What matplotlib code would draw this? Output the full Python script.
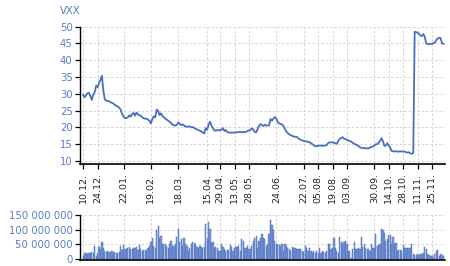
import matplotlib
matplotlib.use("Agg")
import matplotlib.pyplot as plt
import numpy as np
import pandas as pd
from matplotlib.ticker import FuncFormatter

# ---- data ----
holidays = ["2018-12-25", "2019-01-01", "2019-01-21", "2019-02-18", "2019-04-19",
            "2019-05-27", "2019-07-04", "2019-09-02", "2019-11-28"]
dates = pd.bdate_range("2018-12-10", "2019-12-06", freq="C", holidays=holidays)

price = [
    29.7, 29.0, 29.6, 30.2, 30.3, 29.3, 28.2, 29.8, 30.5, 32.4, 32.0, 33.3, 34.1, 35.4, 31.0,
    28.4, 28.0, 27.9, 27.8, 27.5, 27.3, 27.1, 26.7, 26.4, 26.2, 25.9, 25.3, 24.0, 23.2, 22.8,
    22.8, 23.0, 23.6, 23.2, 24.0, 24.3, 23.5, 24.4, 23.9, 23.6, 23.5, 23.0, 22.7, 22.6, 22.6,
    22.3, 22.0, 21.2, 22.5, 23.3, 23.0, 25.3, 24.9, 23.7, 24.2, 23.4, 23.0, 22.6, 22.3, 22.0,
    21.7, 21.3, 20.8, 20.7, 20.5, 20.8, 21.5, 21.0, 20.7, 20.9, 20.6, 20.2, 20.3, 20.2, 20.3,
    20.0, 20.1, 19.8, 19.6, 19.4, 19.2, 19.0, 18.8, 18.5, 18.2, 19.8, 19.3, 20.8, 21.7, 20.6,
    19.8, 19.1, 19.0, 19.2, 19.2, 19.1, 19.3, 19.8, 18.9, 19.2, 18.6, 18.5, 18.4, 18.5, 18.5,
    18.4, 18.6, 18.5, 18.6, 18.7, 18.5, 18.7, 18.6, 18.7, 18.9, 19.1, 19.2, 19.7, 19.4, 18.6,
    18.5, 19.5, 20.4, 21.0, 20.7, 20.4, 20.8, 20.6, 20.5, 20.6, 22.5, 22.0, 22.6, 23.1, 22.6,
    21.6, 21.2, 21.0, 20.9, 20.4, 19.5, 18.7, 18.3, 17.9, 17.7, 17.5, 17.3, 17.2, 17.2, 16.9,
    16.5, 16.3, 16.1, 16.0, 15.9, 15.8, 15.7, 15.6, 15.3, 15.0, 14.7, 14.4, 14.4, 14.5, 14.6,
    14.6, 14.5, 14.6, 14.6, 14.7, 15.4, 15.5, 15.6, 15.5, 15.4, 15.3, 15.1, 16.0, 16.6, 16.8,
    17.1, 16.6, 16.5, 16.3, 16.1, 15.9, 15.8, 15.4, 15.2, 14.9, 14.7, 14.5, 14.1, 13.9, 13.8,
    13.9, 13.7, 13.8, 13.7, 14.0, 14.2, 14.3, 14.6, 15.0, 15.0, 15.4, 16.0, 16.8, 15.8, 14.5,
    14.6, 15.3, 14.6, 13.9, 13.0, 12.9, 12.8, 12.9, 12.8, 12.8, 12.9, 12.8, 12.8, 12.8, 12.6,
    12.5, 12.6, 12.3, 12.1, 12.4, 48.5, 48.4, 48.2, 47.9, 47.4, 47.2, 47.8, 47.0, 45.0, 44.8,
    44.9, 44.9, 44.9, 45.1, 45.3, 46.0, 46.5, 46.7, 46.6, 45.0, 44.9,
]

volume_m = [
    12, 20, 21, 19, 22, 22, 25, 22, 44, 9, 22, 42, 33, 58, 38,
    26, 24, 26, 24, 24, 28, 22, 25, 20, 22, 24, 44, 30, 48, 36,
    33, 37, 41, 33, 33, 39, 38, 41, 30, 48, 33, 28, 30, 30, 28,
    37, 44, 59, 72, 45, 39, 100, 114, 72, 78, 50, 52, 50, 44, 39,
    50, 61, 44, 44, 50, 74, 103, 59, 67, 44, 72, 50, 44, 28, 39,
    52, 59, 56, 50, 41, 39, 44, 41, 39, 40, 119, 67, 126, 103, 56,
    59, 39, 41, 39, 28, 28, 52, 41, 33, 28, 30, 30, 48, 41, 28,
    39, 41, 41, 44, 28, 67, 63, 39, 37, 44, 33, 33, 44, 63, 72,
    78, 39, 63, 72, 86, 72, 70, 44, 50, 86, 133, 117, 100, 63, 50,
    52, 48, 44, 50, 28, 52, 44, 39, 33, 28, 41, 37, 39, 36, 36,
    33, 33, 28, 24, 44, 39, 28, 37, 28, 22, 28, 22, 28, 22, 37,
    22, 28, 24, 22, 28, 52, 50, 33, 39, 72, 39, 28, 22, 74, 59,
    50, 59, 63, 52, 28, 28, 3, 33, 59, 33, 36, 39, 33, 76, 41,
    52, 39, 36, 33, 28, 52, 39, 39, 86, 44, 48, 52, 102, 100, 89,
    61, 70, 81, 83, 52, 76, 50, 56, 28, 30, 30, 26, 48, 37, 39,
    39, 39, 39, 52, 19, 14, 14, 17, 14, 16, 19, 22, 41, 36, 19,
    14, 11, 9, 3, 17, 28, 30, 11, 17, 14, 11,
]

tick_dates = ["2018-12-10", "2018-12-24", "2019-01-22", "2019-02-19", "2019-03-18",
              "2019-04-15", "2019-04-29", "2019-05-13", "2019-05-28", "2019-06-24",
              "2019-07-22", "2019-08-05", "2019-08-19", "2019-09-03", "2019-09-30",
              "2019-10-14", "2019-10-28", "2019-11-11", "2019-11-25"]
tick_labels = ["10.12.", "24.12.", "22.01.", "19.02.", "18.03.", "15.04.", "29.04.",
               "13.05.", "28.05.", "24.06.", "22.07.", "05.08.", "19.08.", "03.09.",
               "30.09.", "14.10.", "28.10.", "11.11.", "25.11."]
price_ticks = [10, 15, 20, 25, 30, 35, 40, 45, 50]
volume_ticks = [0, 50e6, 100e6, 150e6]
title = "VXX"

# ---- styles ----
n = len(dates)
assert len(price) == n and len(volume_m) == n, (n, len(price), len(volume_m))
x = np.arange(n)
pos = [dates.get_loc(pd.Timestamp(d)) for d in tick_dates]
volume = np.array(volume_m) * 1e6

blue_txt = "#5a7cc8"
line_col = "#4a6fbe"
grid_kw = dict(color="#d4d4d4", linestyle=(0, (2.5, 2)), linewidth=0.7)
fs = 7.3

fig = plt.figure(figsize=(4.5, 2.66), dpi=100)
ax = fig.add_axes([0.1784, 0.3835, 0.8104, 0.5161])
axv = fig.add_axes([0.1784, 0.0226, 0.8104, 0.1691])

for a in (ax, axv):
    a.set_xlim(-2, 251)
    a.set_xticks(pos)
    a.grid(True, **grid_kw)
    a.set_axisbelow(True)
    for s in ("top", "right"):
        a.spines[s].set_visible(False)
    a.spines["left"].set_linewidth(1.0)
    a.spines["bottom"].set_linewidth(1.2)
    a.tick_params(axis="y", colors="black", labelcolor=blue_txt, labelsize=fs,
                  length=3.5, width=0.9, pad=2)

ax.plot(x, price, color=line_col, linewidth=1.3, solid_joinstyle="round")
ax.set_ylim(9.1, 50)
ax.set_yticks(price_ticks)
ax.set_xticklabels(tick_labels, rotation=90, fontsize=6.8, color="#222222")
ax.tick_params(axis="x", length=3.5, width=0.9, pad=3)

axv.bar(x, volume, width=0.85, color="#7a97d6", edgecolor="#4f70bd", linewidth=0.35)
axv.set_ylim(-3e6, 150e6)
axv.set_yticks(volume_ticks)
axv.yaxis.set_major_formatter(FuncFormatter(lambda v, p: f"{int(v):,}".replace(",", " ")))
axv.tick_params(axis="x", length=0, labelbottom=False)

fig.text(60 / 450, 1 - 10.5 / 266, title, color=blue_txt, fontsize=fs, ha="left", va="center")

fig.savefig("out.png", dpi=100)
